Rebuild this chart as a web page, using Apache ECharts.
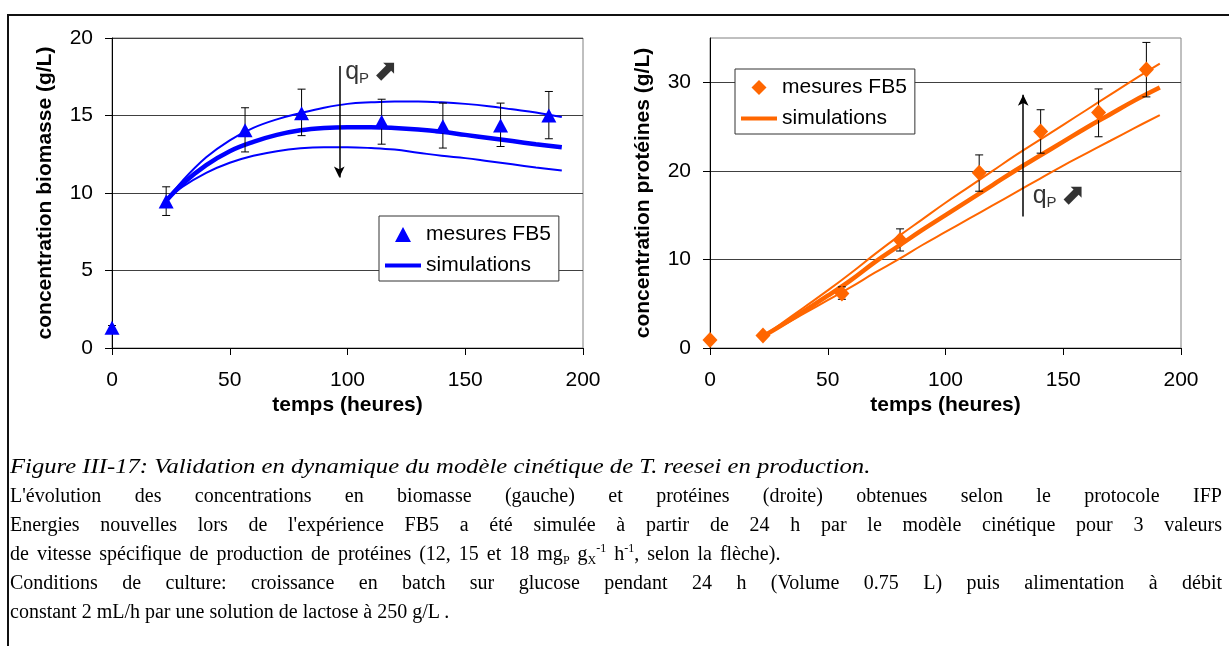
<!DOCTYPE html>
<html><head><meta charset="utf-8">
<script src="https://cdn.jsdelivr.net/npm/echarts@6/dist/echarts.min.js"></script>
<style>
html,body{margin:0;padding:0;background:#fff;}
body{width:1229px;height:646px;overflow:hidden;position:relative;}
#chart{position:absolute;left:0;top:0;width:1229px;height:646px;}
#frame{position:absolute;left:7px;top:14px;width:1300px;height:700px;border-top:2px solid #111;border-left:2px solid #111;pointer-events:none;}
#caption{position:absolute;left:10px;top:450px;width:1212px;font-family:"Liberation Serif","Times New Roman",serif;font-size:20px;line-height:29px;color:#000;}
#caption .l{white-space:nowrap;}
#caption .j{text-align:justify;text-align-last:justify;white-space:normal;}
#caption .it{font-style:italic;font-size:22px;line-height:31px;transform:scaleX(1.12);transform-origin:0 0;}
#caption .w{word-spacing:3px;}
#caption sub,#caption sup{font-size:12px;line-height:0;position:relative;vertical-align:baseline;}
#caption sub{top:4px;} #caption sup{top:-8px;}
</style></head>
<body>
<div id="chart"></div>
<div id="frame"></div>
<div id="caption">
<div class="l it">Figure III-17: Validation en dynamique du modèle cinétique de T. reesei en production.</div>
<div class="j">L'évolution des concentrations en biomasse (gauche) et protéines (droite) obtenues selon le protocole IFP</div>
<div class="j">Energies nouvelles lors de l'expérience FB5 a été simulée à partir de 24 h par le modèle cinétique pour 3 valeurs</div>
<div class="l w">de vitesse spécifique de production de protéines (12, 15 et 18 mg<sub>P</sub> g<sub>X</sub><sup>-1</sup> h<sup>-1</sup>, selon la flèche).</div>
<div class="j">Conditions de culture: croissance en batch sur glucose pendant 24 h (Volume 0.75 L) puis alimentation à débit</div>
<div class="l">constant 2 mL/h par une solution de lactose à 250 g/L .</div>
</div>
<script>
// ---- data ----
const xTicks = [0, 50, 100, 150, 200];
const bioTicks = [0, 5, 10, 15, 20];
const protTicks = [0, 10, 20, 30];

const bioT   = [0, 23, 56.5, 80.5, 114.5, 140.5, 165, 185.5];
const bioVal = [1.3, 9.45, 14.05, 15.15, 14.6, 14.3, 14.35, 15.0];
const bioHi  = [1.45, 10.4, 15.5, 16.7, 16.05, 15.8, 15.8, 16.55];
const bioLo  = [1.15, 8.55, 12.65, 13.7, 13.15, 12.9, 13.0, 13.5];

const protT   = [0, 22.5, 56, 80.7, 114.3, 140.4, 165, 185.3];
const protVal = [0.9, 1.4, 6.15, 12.2, 19.8, 24.45, 26.6, 31.45];
const protHi  = [null, null, 6.9, 13.45, 21.8, 26.9, 29.25, 34.5];
const protLo  = [null, null, 5.5, 10.95, 17.7, 22.0, 23.85, 28.35];

const simT       = [23, 30, 40, 50, 60, 70, 80, 90, 100, 110, 120, 130, 140, 150, 160, 170, 180, 191];
const bioSimMid  = [9.5, 10.6, 11.8, 12.7, 13.3, 13.75, 14.05, 14.2, 14.25, 14.25, 14.2, 14.1, 13.95, 13.75, 13.55, 13.35, 13.15, 12.95];
const bioSimHi   = [9.5, 10.8, 12.3, 13.4, 14.2, 14.75, 15.15, 15.5, 15.75, 15.85, 15.9, 15.9, 15.85, 15.75, 15.6, 15.4, 15.2, 14.9];
const bioSimLo   = [9.5, 10.4, 11.3, 11.95, 12.4, 12.7, 12.88, 12.95, 12.95, 12.9, 12.8, 12.6, 12.4, 12.25, 12.05, 11.85, 11.65, 11.45];
const protSimMid = [1.4, 2.5, 4.2, 5.9, 7.7, 9.7, 11.5, 13.3, 15.0, 16.7, 18.4, 20.1, 21.7, 23.3, 24.9, 26.4, 27.9, 29.4];
const protSimHi  = [1.4, 2.7, 4.6, 6.5, 8.5, 10.6, 12.6, 14.5, 16.4, 18.2, 20.0, 21.8, 23.5, 25.2, 26.9, 28.6, 30.3, 32.1];
const protSimLo  = [1.4, 2.4, 3.9, 5.4, 6.9, 8.5, 10.0, 11.6, 13.1, 14.6, 16.1, 17.6, 19.1, 20.6, 22.0, 23.4, 24.8, 26.3];

// annotation anchors (data coords): arrow [x, yFrom, yTo], label [x, y]
const bioArrow  = [96.5, 18.2, 11.0];
const bioQLabel = [99, 17.8];
const protArrow  = [133, 14.85, 28.6];
const protQLabel = [137, 17.1];

const legendLabels = {bioMes: 'mesures FB5', bioSim: 'simulations', protMes: 'mesures FB5', protSim: 'simulations'};
const xName = 'temps (heures)';
const bioName = 'concentration biomasse (g/L)';
const protName = 'concentration protéines (g/L)';

// ---- build ----
const BLUE = '#0000FF', ORANGE = '#FF6600';
const FONT = '"Liberation Sans", Arial, sans-serif';
const ICON_TRI = 'path://M0,0M36,15M10,15L18,0L26,15Z';
const ICON_DIA = 'path://M0,0M36,16M18,0L26,8L18,16L10,8Z';
const ICON_LINE = 'path://M0,0L36,0L36,4L0,4Z';
const zip = (a, b) => a.map((v, i) => [v, b[i]]);
const errData = (t, lo, hi) => t.map((v, i) => [v, lo[i], hi[i]]).filter(d => d[1] != null);

function errSeries(xi, data) {
  return {
    type: 'custom', xAxisIndex: xi, yAxisIndex: xi, z: 3, silent: true, data: data,
    encode: {x: 0, y: [1, 2]},
    renderItem: function (params, api) {
      const x = api.value(0);
      const lo = api.coord([x, api.value(1)]);
      const hi = api.coord([x, api.value(2)]);
      const w = 4;
      const st = {stroke: '#000', lineWidth: 1};
      return {type: 'group', children: [
        {type: 'line', shape: {x1: lo[0], y1: lo[1], x2: hi[0], y2: hi[1]}, style: st},
        {type: 'line', shape: {x1: lo[0] - w, y1: lo[1], x2: lo[0] + w, y2: lo[1]}, style: st},
        {type: 'line', shape: {x1: hi[0] - w, y1: hi[1], x2: hi[0] + w, y2: hi[1]}, style: st}
      ]};
    }
  };
}
function simLine(xi, name, vals, color, width) {
  return {type: 'line', name: name, xAxisIndex: xi, yAxisIndex: xi, data: zip(simT, vals),
    smooth: 0.4, showSymbol: false, symbol: 'none', silent: true, z: 2,
    lineStyle: {color: color, width: width}, itemStyle: {color: color}};
}
function annot(xi, arrow, label) {
  return {type: 'scatter', xAxisIndex: xi, yAxisIndex: xi, silent: true, z: 6,
    symbolSize: 0, data: [label],
    label: {show: true, position: 'right', distance: 0, formatter: '{q|q}{p|P} {a|⬈}',
      rich: {
        q: {fontSize: 25, fontFamily: FONT, color: '#000', lineHeight: 28},
        p: {fontSize: 15, fontFamily: FONT, color: '#000', lineHeight: 15, verticalAlign: 'bottom'},
        a: {fontSize: 29, fontFamily: '"DejaVu Sans"', color: '#000', fontWeight: 'bold', lineHeight: 28}
      }},
    markLine: {silent: true, symbol: ['none', 'arrow'], symbolSize: [8, 11], animation: false,
      lineStyle: {color: '#000', width: 1.5, type: 'solid'}, label: {show: false},
      data: [[{coord: [arrow[0], arrow[1]]}, {coord: [arrow[0], arrow[2]]}]]}
  };
}
function xAxis(gi) {
  return {gridIndex: gi, type: 'value', min: 0, max: 200, interval: 50,
    axisLine: {show: true, onZero: false, lineStyle: {color: '#000', width: 1}},
    axisTick: {show: true, length: 7, lineStyle: {color: '#000'}},
    axisLabel: {fontSize: 21, color: '#000', fontFamily: FONT, margin: 22, customValues: xTicks},
    splitLine: {show: false},
    name: xName, nameLocation: 'middle', nameGap: 47,
    nameTextStyle: {fontSize: 21, fontWeight: 'bold', color: '#000', fontFamily: FONT}};
}
function yAxis(gi, max, interval, ticks, name) {
  return {gridIndex: gi, type: 'value', min: 0, max: max, interval: interval,
    axisLine: {show: true, onZero: false, lineStyle: {color: '#000', width: 1}},
    axisTick: {show: true, length: 7, lineStyle: {color: '#000'}, customValues: ticks},
    axisLabel: {fontSize: 21, color: '#000', fontFamily: FONT, margin: 19, customValues: ticks},
    splitLine: {show: true, lineStyle: {color: '#404040', width: 1}},
    name: name, nameLocation: 'middle', nameGap: 56, nameRotate: 90,
    nameTextStyle: {fontSize: 21, fontWeight: 'bold', color: '#000', fontFamily: FONT}};
}
function legend(left, top, names, markerIcon) {
  return {orient: 'vertical', left: left, top: top,
    data: [{name: names[0], icon: markerIcon}, {name: names[1], icon: ICON_LINE}],
    formatter: n => legendLabels[n], padding: [8, 8, 5, 6], itemGap: 10,
    itemWidth: 36, itemHeight: 15, symbolKeepAspect: true,
    backgroundColor: '#fff', borderColor: '#333', borderWidth: 1, borderRadius: 0,
    textStyle: {fontSize: 21, color: '#000', fontFamily: FONT},
    selectedMode: false};
}

const option = {
  animation: false,
  backgroundColor: '#fff',
  grid: [
    {left: 112, top: 38, width: 471, height: 310, show: true, borderColor: '#808080', borderWidth: 1, backgroundColor: 'transparent'},
    {left: 710, top: 38, width: 471, height: 310, show: true, borderColor: '#808080', borderWidth: 1, backgroundColor: 'transparent'}
  ],
  xAxis: [xAxis(0), xAxis(1)],
  yAxis: [yAxis(0, 20, 5, bioTicks, bioName), yAxis(1, 35, 10, protTicks, protName)],
  legend: [legend(379, 216, ['bioMes', 'bioSim'], ICON_TRI), legend(735, 69, ['protMes', 'protSim'], ICON_DIA)],
  series: [
    simLine(0, 'bioSimHi', bioSimHi, BLUE, 2),
    simLine(0, 'bioSimLo', bioSimLo, BLUE, 2),
    simLine(0, 'bioSim', bioSimMid, BLUE, 4.5),
    errSeries(0, errData(bioT, bioLo, bioHi)),
    {type: 'scatter', name: 'bioMes', xAxisIndex: 0, yAxisIndex: 0, data: zip(bioT, bioVal), z: 5,
      symbol: 'triangle', symbolSize: [15, 14], itemStyle: {color: BLUE, opacity: 1}},
    annot(0, bioArrow, bioQLabel),
    simLine(1, 'protSimHi', protSimHi, ORANGE, 2),
    simLine(1, 'protSimLo', protSimLo, ORANGE, 2),
    simLine(1, 'protSim', protSimMid, ORANGE, 4.5),
    errSeries(1, errData(protT, protLo, protHi)),
    {type: 'scatter', name: 'protMes', xAxisIndex: 1, yAxisIndex: 1, data: zip(protT, protVal), z: 5,
      symbol: 'diamond', symbolSize: [15, 16], itemStyle: {color: ORANGE, opacity: 1}},
    annot(1, protArrow, protQLabel)
  ]
};
const chart = echarts.init(document.getElementById('chart'), null, {renderer: 'canvas'});
chart.setOption(option);
</script>
</body></html>
